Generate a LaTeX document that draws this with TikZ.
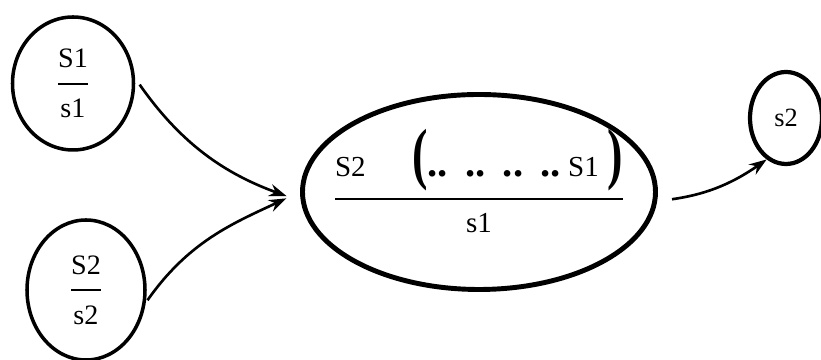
\documentclass[tikz,border=0pt]{standalone}
\usepackage{amsmath}
\usepackage{graphicx}
\usepackage{fontspec}
\setmainfont{Liberation Serif}
\usepackage{tikz}
\usetikzlibrary{arrows.meta,shapes.geometric}

% fraction with a heavier rule and a little more air
\newcommand{\frc}[2]{$\genfrac{}{}{1.2pt}{0}{\rule[-5pt]{0pt}{5pt}\text{#1}}{\rule{0pt}{15pt}\text{#2}}$}
\newcommand{\bigpar}[1]{\scalebox{1.6}[2.35]{\bfseries #1}}
\newcommand{\dd}{\scalebox{1.4}{\textbf{..}}}

\begin{document}
\begin{tikzpicture}[
    state/.style={draw, ellipse, inner sep=0pt, line width=2pt},
    bigstate/.style={draw, ellipse, inner sep=0pt, line width=2.8pt},
    arrow/.style={-{Stealth[length=10pt, width=7pt]}, line width=1.5pt}
  ]
    \useasboundingbox (0,0) rectangle (16.42,7.2);

    \node[state, minimum width=2.42cm, minimum height=2.66cm, font=\fontsize{16}{19}\selectfont] (p1) at (1.46,5.53) {\frc{S1}{s1}};
    \node[state, minimum width=2.36cm, minimum height=2.8cm, font=\fontsize{16}{19}\selectfont]  (p2) at (1.72,1.4) {\frc{S2}{s2}};

    \node[bigstate, minimum width=7.06cm, minimum height=3.9cm] (mid) at (9.58,3.36) {};
    \node[font=\fontsize{16.5}{19}\selectfont] (midfrac) at (9.58,3.58)
        {\frc{S2\hspace{1.6em}\bigpar{(}\dd\hspace{0.6em}\dd\hspace{0.6em}\dd\hspace{0.6em}\dd\hspace{0.25em}S1\hspace{0.3em}\bigpar{)}}{s1}};

    \node[bigstate, line width=2.4pt, minimum width=1.44cm, minimum height=1.84cm, font=\fontsize{15}{18}\selectfont] (res) at (15.72,4.84) {s2};

    \draw[arrow, shorten <=0.16cm, shorten >=0.3cm] (p1.5) to[out=-55, in=160] (mid.183);
    \draw[arrow, shorten <=0.06cm, shorten >=0.3cm] (p2.-12) to[out=55, in=205] (mid.180);
    \draw[arrow, shorten <=0.3cm] (mid.357) to[out=8, in=215] (res.245);
\end{tikzpicture}
\end{document}
